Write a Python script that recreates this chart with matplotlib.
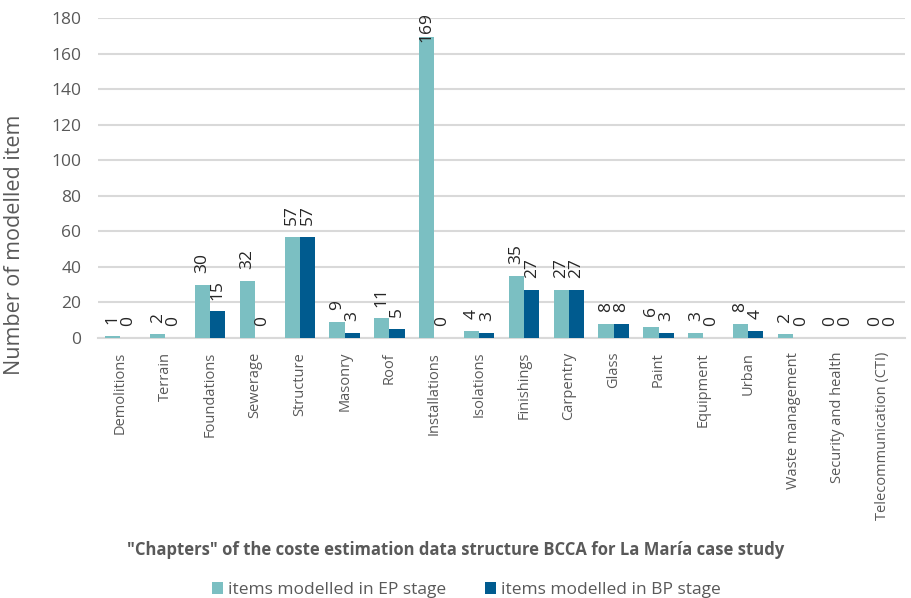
import numpy as np
import matplotlib.pyplot as plt

plt.rcParams['font.family'] = ['Open Sans', 'DejaVu Sans']

capitulos = ['Demolitions', 'Terrain', 'Foundations', 'Sewerage', 'Structure',
             'Masonry', 'Roof', 'Installations', 'Isolations', 'Finishings',
             'Carpentry', 'Glass', 'Paint', 'Equipment', 'Urban',
             'Waste management', 'Security and health', 'Telecommunication (CTI)']
itens_ep = [1, 2, 30, 32, 57, 9, 11, 169, 4, 35, 27, 8, 6, 3, 8, 2, 0, 0]
itens_bp = [0, 0, 15, 0, 57, 3, 5, 0, 3, 27, 27, 8, 3, 0, 4, 0, 0, 0]
series = ['items modelled in EP stage', 'items modelled in BP stage']
cores = ['#7BBFC2', '#005B8F']
cinza = '#595959'

fig = plt.figure(figsize=(9.11, 5.98), dpi=100)
ax = fig.add_axes([0.1076, 0.4348, 0.886, 0.5352])

x = np.arange(len(capitulos))
w = 0.34
barras_ep = ax.bar(x - w / 2, itens_ep, w, color=cores[0], label=series[0], zorder=3)
barras_bp = ax.bar(x + w / 2, itens_bp, w, color=cores[1], label=series[1], zorder=3)

ymax = 180
# rotulos verticais em cima de cada barra (o muito alto fica encostado no topo)
for barras, valores in [(barras_ep, itens_ep), (barras_bp, itens_bp)]:
    for b, v in zip(barras, valores):
        xc = b.get_x() + b.get_width() / 2
        if v > 0.8 * ymax:
            ax.annotate(str(v), (xc, ymax), xytext=(0, 4), textcoords='offset points',
                        rotation=90, ha='center', va='top', fontsize=12.5,
                        color='#262626', annotation_clip=False)
        else:
            ax.annotate(str(v), (xc, v), xytext=(0, 8.5), textcoords='offset points',
                        rotation=90, ha='center', va='bottom', fontsize=12.5,
                        color='#262626')

ax.set_ylim(0, ymax)
ax.set_yticks(range(0, ymax + 1, 20))
ax.set_xlim(-0.5, len(capitulos) - 0.5)
ax.set_xticks(x)
ax.set_xticklabels(capitulos, rotation=90, fontsize=10.5, color=cinza)
ax.tick_params(axis='y', labelsize=12.5, labelcolor=cinza, length=0, pad=12)
ax.tick_params(axis='x', length=0, pad=10)

ax.grid(axis='y', color='#D9D9D9', linewidth=1.5, zorder=0)
for lado in ['top', 'right', 'left']:
    ax.spines[lado].set_visible(False)
ax.spines['bottom'].set_color('#D9D9D9')
ax.spines['bottom'].set_linewidth(1.5)

ax.set_ylabel('Number of modelled item', fontsize=15.5, color=cinza)
ax.yaxis.set_label_coords(-0.0905, 0.29)
fig.text(0.5, 0.08, '"Chapters" of the coste estimation data structure BCCA for La María case study',
         ha='center', va='center', fontsize=12, fontweight='bold', color=cinza)

fig.legend(loc='center', bbox_to_anchor=(0.512, 0.013), ncol=2, frameon=False,
           fontsize=12.5, handlelength=0.65, handleheight=0.65, handletextpad=0.3,
           columnspacing=2.2, labelcolor=cinza)

fig.savefig('out.png', dpi=100)
